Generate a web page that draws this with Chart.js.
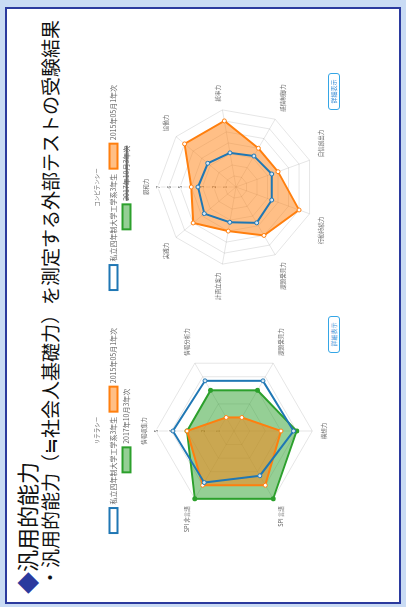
<!DOCTYPE html>
<html>
<head>
<meta charset="utf-8">
<script src="https://cdn.jsdelivr.net/npm/chart.js@4"></script>
<style>
html, body { margin: 0; padding: 0; width: 406px; height: 607px; overflow: hidden; background: #c9dbf4; }
#page { position: absolute; left: 0; top: 0; width: 607px; height: 406px;
  transform-origin: 0 0; transform: translate(0, 607px) rotate(-90deg);
  font-family: 'Noto Sans CJK JP', sans-serif; }
#frame { position: absolute; left: 3px; top: 5px; width: 593px; height: 392px;
  border: 2px solid #2b3a9e; background: #fff; }
.title { position: absolute; left: 13px; top: 14px; font-size: 22px; line-height: 24px; color: #111; white-space: nowrap; }
.title span { color: #2b3a9e; }
.sub { position: absolute; left: 20px; top: 39px; font-size: 19px; line-height: 22px; color: #111; white-space: nowrap; }
.panel { position: absolute; top: 88px; width: 245px; height: 240px; }
.btn { position: absolute; top: 328px; width: 35px; height: 10px; border: 1.5px solid #35a6e6;
  border-radius: 3px; background: #fff; color: #3d8fd6; font-size: 6px; line-height: 10px; text-align: center; }
</style>
</head>
<body>
<div id="page">
  <div id="frame"></div>
  <div class="title"><span>◆</span>汎用的能力</div>
  <div class="sub">・汎用的能力（≒社会人基礎力）を測定する外部テストの受験結果</div>
  <div class="panel" style="left:54px"><canvas id="literacy" width="245" height="240"></canvas></div>
  <div class="panel" style="left:297px"><canvas id="competency" width="245" height="240"></canvas></div>
  <div class="btn" style="left:254px">詳細表示</div>
  <div class="btn" style="left:497px">詳細表示</div>
</div>
<script>
const seriesNames = ['私立四年制大学工学系3年生', '2015年05月1年次', '2017年10月3年次'];

const literacyLabels = ['情報収集力', '情報分析力', '課題発見力', '構想力', 'SPI 言語', 'SPI 非言語'];
const literacyUniv = [3.9, 3.7, 3.7, 3.8, 3.3, 3.8];
const literacy2015 = [3, 1, 1, 3, 4, 4];
const literacy2017 = [3, 3, 3, 4, 5, 5];

const competencyLabels = ['親和力', '協働力', '統率力', '感情制御力', '自信創出力', '行動持続力', '課題発見力', '計画立案力', '実践力'];
const competencyUniv = [3.4, 3.3, 3.1, 3.2, 3.4, 3.4, 3.7, 3.2, 3.7];
const competency2015 = [4, 6, 6, 4, 4, 6, 5, 4, 5];
const competency2017 = [];

Chart.defaults.font.family = "'Noto Sans CJK JP', sans-serif";
Chart.defaults.color = '#666';

function makeRadar(id, title, labels, univ, y2015, y2017, max, hide2017) {
  const ctx = document.getElementById(id).getContext('2d');
  return new Chart(ctx, {
    type: 'radar',
    data: {
      labels: labels,
      datasets: [
        {
          label: seriesNames[0],
          data: univ,
          borderColor: '#1f77b4',
          backgroundColor: 'rgba(255,255,255,0)',
          pointBackgroundColor: '#d6e6f3',
          borderWidth: 2,
          pointRadius: 2,
          pointBorderWidth: 1,
          fill: false
        },
        {
          label: seriesNames[1],
          data: y2015,
          borderColor: '#ff7f0e',
          backgroundColor: 'rgba(255,127,14,0.5)',
          pointBackgroundColor: '#fff',
          borderWidth: 2,
          pointRadius: 2,
          pointBorderWidth: 1,
          fill: true
        },
        {
          label: seriesNames[2],
          data: y2017,
          borderColor: '#2ca02c',
          backgroundColor: 'rgba(44,160,44,0.5)',
          borderWidth: 2,
          pointRadius: 1.5,
          fill: true,
          hidden: hide2017
        }
      ]
    },
    options: {
      responsive: false,
      animation: false,
      plugins: {
        legend: {
          position: 'top',
          title: { display: true, text: title, font: { size: 5.5 }, padding: { top: 6, bottom: 4 } },
          labels: { font: { size: 7 }, boxWidth: 25, boxHeight: 8, padding: 5 }
        },
        tooltip: { enabled: false }
      },
      scales: {
        r: {
          min: 0,
          max: max,
          ticks: { stepSize: 1, font: { size: 5 }, backdropPadding: 1 },
          pointLabels: { font: { size: 5.5 } }
        }
      }
    }
  });
}

makeRadar('literacy', 'リテラシー', literacyLabels, literacyUniv, literacy2015, literacy2017, 5, false);
makeRadar('competency', 'コンピテンシー', competencyLabels, competencyUniv, competency2015, competency2017, 7, true);
</script>
</body>
</html>
